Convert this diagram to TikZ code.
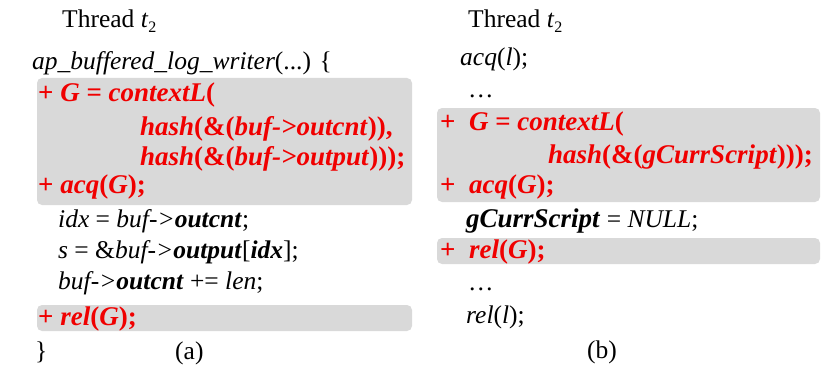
\documentclass[tikz,border=0pt]{standalone}
\usepackage{fontspec}
\setmainfont{Liberation Serif}
\definecolor{boxgray}{RGB}{217,217,217}
\definecolor{codered}{RGB}{240,0,0}
\newcommand{\bi}[1]{\textbf{\textit{#1}}}
\newcommand{\sbtwo}{\raisebox{-0.35ex}{\fontsize{16}{16}\selectfont 2}}
\tikzset{
  codeline/.style={anchor=base west, inner sep=0pt, font=\fontsize{25.5}{30}\selectfont},
  redline/.style={codeline, text=codered, font=\fontsize{27}{30}\selectfont\bfseries},
  hilite/.style={fill=boxgray, draw=none, rounded corners=5pt}
}
\begin{document}
\begin{tikzpicture}[x=1pt,y=-1pt]
\useasboundingbox (0,0) rectangle (833,369);
% highlight boxes
\path[hilite] (37,78) rectangle (412,205);
\path[hilite] (37,305) rectangle (412,331);
\path[hilite] (437,108) rectangle (820,202);
\path[hilite] (437,238) rectangle (820,264);
% (a)
\node[codeline] (ta) at (62,28) {Thread \textit{t}\sbtwo};
\node[codeline] (a0) at (32,70) {\textit{ap\_buffered\_log\_writer}(...) \{};
\node[redline] (a1) at (38,101) {+ \textit{G} = \textit{contextL}(};
\node[redline] (a2) at (140,135) {\textit{hash}(\&(\textit{buf->outcnt})),};
\node[redline] (a3) at (140,165) {\textit{hash}(\&(\textit{buf->output})));};
\node[redline] (a4) at (38,193) {+ \textit{acq}(\textit{G});};
\node[codeline] (a5) at (58,227) {\textit{idx} = \textit{buf->}\bi{outcnt};};
\node[codeline] (a6) at (58,258) {\textit{s} = \&\textit{buf->}\bi{output}[\bi{idx}];};
\node[codeline] (a7) at (58,289) {\textit{buf->}\bi{outcnt} += \textit{len};};
\node[redline] (a8) at (38,325) {+ \textit{rel}(\textit{G});};
\node[codeline] (a9) at (35,359) {\}};
\node[codeline] (la) at (175,359) {(a)};
% (b)
\node[codeline] (tb) at (468,28) {Thread \textit{t}\sbtwo};
\node[codeline] (b0) at (460,66) {\textit{acq}(\textit{l});};
\node[codeline] (b1) at (468,97) {\dots};
\node[redline] (b2) at (440,130) {+\ \ \textit{G} = \textit{contextL}(};
\node[redline] (b3) at (548,163) {\textit{hash}(\&(\textit{gCurrScript})));};
\node[redline] (b4) at (440,193) {+\ \ \textit{acq}(\textit{G});};
\node[codeline] (b5) at (466,227) {{\fontsize{27}{30}\selectfont\bi{gCurrScript}} = \textit{NULL};};
\node[redline] (b6) at (440,258) {+\ \ \textit{rel}(\textit{G});};
\node[codeline] (b7) at (468,290) {\dots};
\node[codeline] (b8) at (466,323) {\textit{rel}(\textit{l});};
\node[codeline] (lb) at (587,358) {(b)};
\end{tikzpicture}
\end{document}
